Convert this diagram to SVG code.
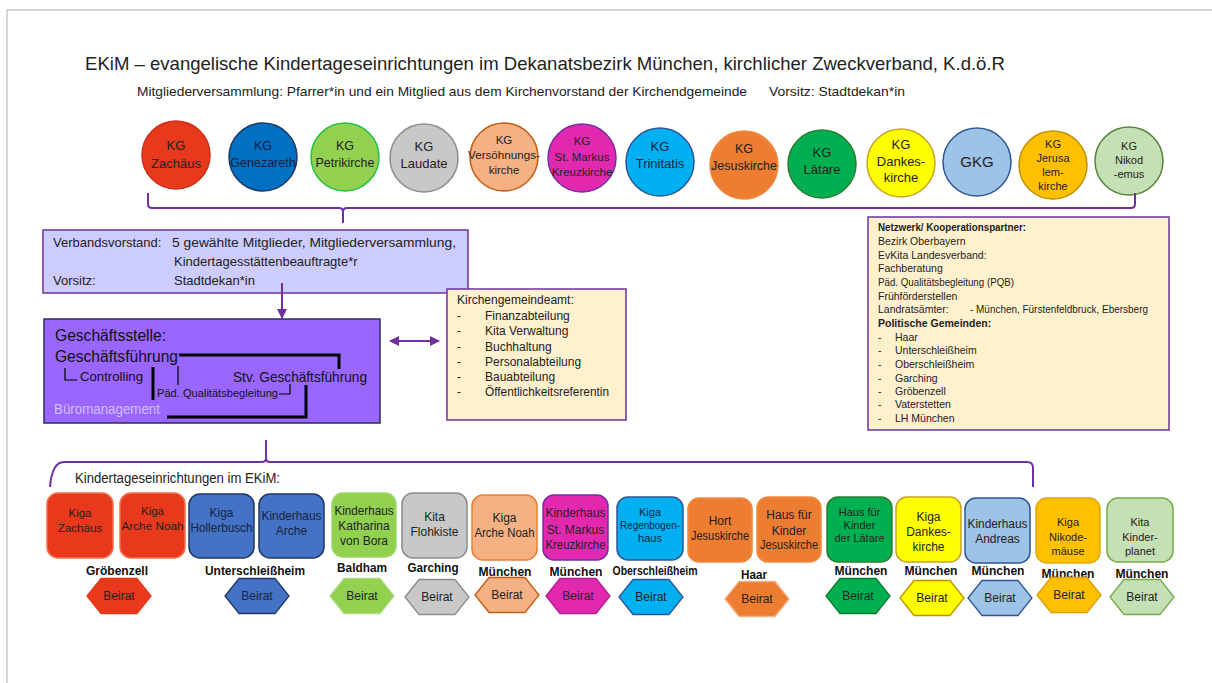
<svg xmlns="http://www.w3.org/2000/svg" width="1212" height="683" viewBox="0 0 1212 683">
<defs>
<style>
.t{font-family:"Liberation Sans",Arial,sans-serif;fill:#222}
.c{text-anchor:middle}
.conn{stroke:#7030A0;stroke-width:2;fill:none}
.blk{stroke:#000;stroke-width:3;fill:none}
.thin{stroke:#000;stroke-width:1.2;fill:none}
.kg{stroke-width:1.5}
.box{stroke-width:1.5}
.hex{stroke-width:1.3}
.loc{font-family:"Liberation Sans",Arial,sans-serif;fill:#111;font-weight:bold;font-size:13px;text-anchor:middle}
</style>
<marker id="ah" viewBox="0 0 10 10" refX="9" refY="5" markerWidth="5" markerHeight="5" orient="auto-start-reverse">
<path d="M0,0 L10,5 L0,10 z" fill="#7030A0"/>
</marker>
<polygon id="hx" points="-32,0 -18,-17.5 18,-17.5 32,0 18,17.5 -18,17.5"/>
</defs>
<rect x="0" y="0" width="1212" height="683" fill="#fff"/>
<path d="M7,683 V10 H1212" stroke="#c8c8c8" stroke-width="1.5" fill="none"/>

<g id="title">
<text class="t" x="85" y="70" font-size="19" textLength="920" lengthAdjust="spacingAndGlyphs">EKiM – evangelische Kindertageseinrichtungen im Dekanatsbezirk München, kirchlicher Zweckverband, K.d.ö.R</text>
<text class="t" x="137" y="96" font-size="13" textLength="610" lengthAdjust="spacingAndGlyphs">Mitgliederversammlung: Pfarrer*in und ein Mitglied aus dem Kirchenvorstand der Kirchendgemeinde</text>
<text class="t" x="769" y="96" font-size="13" textLength="136" lengthAdjust="spacingAndGlyphs">Vorsitz: Stadtdekan*in</text>
</g>

<g id="kg-zachaeus"><circle class="kg" cx="176" cy="155" r="34" fill="#E8391D" stroke="#C8301A"/>
<text class="t c" font-size="13"><tspan x="176" y="150">KG</tspan><tspan x="176" y="168">Zachäus</tspan></text></g>
<g id="kg-genezareth"><circle class="kg" cx="263" cy="157" r="34" fill="#0070C0" stroke="#1F3864"/>
<text class="t c" font-size="12.5" style="fill:#0f2040"><tspan x="263" y="150">KG</tspan><tspan x="263" y="167">Genezareth</tspan></text></g>
<g id="kg-petrikirche"><circle class="kg" cx="345" cy="157" r="34" fill="#92D050" stroke="#22C040"/>
<text class="t c" font-size="12.5"><tspan x="345" y="150">KG</tspan><tspan x="345" y="167">Petrikirche</tspan></text></g>
<g id="kg-laudate"><circle class="kg" cx="424" cy="158" r="34" fill="#C8C8C8" stroke="#8C8C8C"/>
<text class="t c" font-size="13"><tspan x="424" y="151">KG</tspan><tspan x="424" y="168">Laudate</tspan></text></g>
<g id="kg-versoehnung"><circle class="kg" cx="504" cy="157" r="34" fill="#F4B183" stroke="#C55A11"/>
<text class="t c" font-size="11.5"><tspan x="504" y="144">KG</tspan><tspan x="504" y="159" textLength="72" lengthAdjust="spacingAndGlyphs">Versöhnungs-</tspan><tspan x="504" y="174">kirche</tspan></text></g>
<g id="kg-stmarkus"><circle class="kg" cx="582" cy="158" r="34" fill="#E328B0" stroke="#7030A0"/>
<text class="t c" font-size="11.5"><tspan x="582" y="145">KG</tspan><tspan x="582" y="161">St. Markus</tspan><tspan x="582" y="176">Kreuzkirche</tspan></text></g>
<g id="kg-trinitatis"><circle class="kg" cx="660" cy="162" r="34" fill="#00B0F0" stroke="#2F5597"/>
<text class="t c" font-size="13" style="fill:#10243f"><tspan x="660" y="151">KG</tspan><tspan x="660" y="168">Trinitatis</tspan></text></g>
<g id="kg-jesuskirche"><circle class="kg" cx="744" cy="165" r="34" fill="#ED7D31" stroke="#F08A40"/>
<text class="t c" font-size="12.5"><tspan x="744" y="153">KG</tspan><tspan x="744" y="170">Jesuskirche</tspan></text></g>
<g id="kg-laetare"><circle class="kg" cx="822" cy="164" r="34" fill="#00B050" stroke="#2E7D32"/>
<text class="t c" font-size="13"><tspan x="822" y="157">KG</tspan><tspan x="822" y="174">Lätare</tspan></text></g>
<g id="kg-dankeskirche"><circle class="kg" cx="901" cy="163" r="34" fill="#FFFF00" stroke="#C9A227"/>
<text class="t c" font-size="13"><tspan x="901" y="149">KG</tspan><tspan x="901" y="166">Dankes-</tspan><tspan x="901" y="182">kirche</tspan></text></g>
<g id="gkg"><circle class="kg" cx="977" cy="162" r="34" fill="#9DC3E6" stroke="#2F5597"/>
<text class="t c" font-size="15" x="977" y="167">GKG</text></g>
<g id="kg-jerusalem"><circle class="kg" cx="1053" cy="165" r="34" fill="#FFC000" stroke="#BF9000"/>
<text class="t c" font-size="11"><tspan x="1053" y="148">KG</tspan><tspan x="1053" y="162">Jerusa</tspan><tspan x="1053" y="176">lem-</tspan><tspan x="1053" y="190">kirche</tspan></text></g>
<g id="kg-nikodemus"><circle class="kg" cx="1129" cy="161" r="34" fill="#C5E0B4" stroke="#548235"/>
<text class="t c" font-size="11"><tspan x="1129" y="150">KG</tspan><tspan x="1129" y="164">Nikod</tspan><tspan x="1129" y="178">-emus</tspan></text></g>

<g id="verbandsvorstand">
<rect x="43" y="230" width="425" height="63" fill="#CCCCFF" stroke="#7030A0" stroke-width="1.5"/>
<text class="t" font-size="13" x="53" y="247">Verbandsvorstand:</text>
<text class="t" font-size="13" x="172" y="247" textLength="284" lengthAdjust="spacingAndGlyphs">5 gewählte Mitglieder, Mitgliederversammlung,</text>
<text class="t" font-size="13" x="174" y="266">Kindertagesstättenbeauftragte*r</text>
<text class="t" font-size="13" x="53" y="285">Vorsitz:</text>
<text class="t" font-size="13" x="174" y="285">Stadtdekan*in</text>
</g>

<g id="geschaeftsstelle">
<rect x="44" y="319" width="336" height="104" fill="#9966FF" stroke="#2B2B55" stroke-width="1.5"/>
<text class="t" style="fill:#111" font-size="16" x="55" y="341" textLength="111" lengthAdjust="spacingAndGlyphs">Geschäftsstelle:</text>
<text class="t" style="fill:#111" font-size="16" x="55" y="362" textLength="123" lengthAdjust="spacingAndGlyphs">Geschäftsführung</text>
<path class="blk" d="M179,355 H339 V369"/>
<path class="thin" d="M65,368 V380 H77"/>
<text class="t" style="fill:#111" font-size="12.5" x="80" y="381" textLength="63" lengthAdjust="spacingAndGlyphs">Controlling</text>
<path class="blk" d="M153,367 V400"/>
<path class="thin" d="M178,366 V385"/>
<text class="t" style="fill:#111" font-size="15" x="233" y="382" textLength="134" lengthAdjust="spacingAndGlyphs">Stv. Geschäftsführung</text>
<text class="t" style="fill:#111" font-size="11" x="157" y="397" textLength="121" lengthAdjust="spacingAndGlyphs">Päd. Qualitätsbegleitung</text>
<path class="thin" d="M279,394 H290 V384"/>
<path class="blk" d="M306,385 V417 H167"/>
<text class="t" style="fill:#D2BFFF" font-size="14" x="54" y="414" textLength="106" lengthAdjust="spacingAndGlyphs">Büromanagement</text>
</g>

<g id="kirchengemeindeamt">
<rect x="447" y="289" width="179" height="131" fill="#FFF0CE" stroke="#7030A0" stroke-width="1.5"/>
<g class="t" font-size="12">
<text x="457" y="304">Kirchengemeindeamt:</text>
<text x="457" y="320">-</text><text x="485" y="320">Finanzabteilung</text>
<text x="457" y="335">-</text><text x="485" y="335">Kita Verwaltung</text>
<text x="457" y="351">-</text><text x="485" y="351">Buchhaltung</text>
<text x="457" y="366">-</text><text x="485" y="366">Personalabteilung</text>
<text x="457" y="381">-</text><text x="485" y="381">Bauabteilung</text>
<text x="457" y="396">-</text><text x="485" y="396" textLength="124" lengthAdjust="spacingAndGlyphs">Öffentlichkeitsreferentin</text>
</g>
</g>

<g id="netzwerk">
<rect x="868" y="217" width="301" height="213" fill="#FFF0CE" stroke="#7030A0" stroke-width="1.5"/>
<g class="t" font-size="10.5">
<text x="878" y="231" font-weight="bold" textLength="148" lengthAdjust="spacingAndGlyphs">Netzwerk/ Kooperationspartner:</text>
<text x="878" y="245">Bezirk Oberbayern</text>
<text x="878" y="259">EvKita Landesverband:</text>
<text x="878" y="272">Fachberatung</text>
<text x="878" y="286" textLength="136" lengthAdjust="spacingAndGlyphs">Päd. Qualitätsbegleitung (PQB)</text>
<text x="878" y="300">Frühförderstellen</text>
<text x="878" y="313">Landratsämter:</text>
<text x="970" y="313" textLength="178" lengthAdjust="spacingAndGlyphs">- München, Fürstenfeldbruck, Ebersberg</text>
<text x="878" y="327" font-weight="bold">Politische Gemeinden:</text>
<text x="878" y="341">-</text><text x="895" y="341">Haar</text>
<text x="878" y="354">-</text><text x="895" y="354">Unterschleißheim</text>
<text x="878" y="368">-</text><text x="895" y="368">Oberschleißheim</text>
<text x="878" y="382">-</text><text x="895" y="382">Garching</text>
<text x="878" y="395">-</text><text x="895" y="395">Gröbenzell</text>
<text x="878" y="408">-</text><text x="895" y="408">Vaterstetten</text>
<text x="878" y="422">-</text><text x="895" y="422">LH München</text>
</g>
</g>

<g id="connectors">
<path class="conn" d="M148,193 V204 Q148,208 152,208 H339 Q343,208 343,212 V223 M343,212 Q343,208 347,208 H1131 Q1135,208 1135,204 V193"/>
<path class="conn" d="M282,283 V318" marker-end="url(#ah)"/>
<path class="conn" d="M390,341 H439" marker-start="url(#ah)" marker-end="url(#ah)"/>
<path class="conn" d="M50,487 Q52,462 64,462 H262 Q266,462 266,458 V440 M266,458 Q266,462 270,462 H1027 Q1033,462 1033,468 V487"/>
</g>

<text class="t" font-size="14" x="75" y="483" textLength="205" lengthAdjust="spacingAndGlyphs">Kindertageseinrichtungen im EKiM:</text>

<g id="kita-zachaeus"><rect class="box" x="47" y="493" width="66" height="65" rx="11" fill="#E8391D" stroke="#F0704F"/>
<text class="t c" font-size="11.5"><tspan x="80" y="517">Kiga</tspan><tspan x="80" y="532">Zachäus</tspan></text></g>
<g id="kita-archenoah1"><rect class="box" x="120" y="493" width="65" height="65" rx="11" fill="#E8391D" stroke="#F0704F"/>
<text class="t c" font-size="11.5"><tspan x="152.5" y="515">Kiga</tspan><tspan x="152.5" y="530" textLength="62" lengthAdjust="spacingAndGlyphs">Arche Noah</tspan></text></g>
<g id="kita-hollerbusch"><rect class="box" x="189" y="494" width="65" height="64" rx="11" fill="#4472C4" stroke="#1F3864"/>
<text class="t c" font-size="12" style="fill:#17233f"><tspan x="221.5" y="517">Kiga</tspan><tspan x="221.5" y="532" textLength="62" lengthAdjust="spacingAndGlyphs">Hollerbusch</tspan></text></g>
<g id="kita-arche"><rect class="box" x="259" y="494" width="65" height="64" rx="11" fill="#4472C4" stroke="#1F3864"/>
<text class="t c" font-size="12" style="fill:#17233f"><tspan x="291.5" y="520" textLength="60" lengthAdjust="spacingAndGlyphs">Kinderhaus</tspan><tspan x="291.5" y="535">Arche</tspan></text></g>
<g id="kita-katharina"><rect class="box" x="332" y="493" width="64" height="64" rx="11" fill="#92D050" stroke="#9BD96A"/>
<text class="t c" font-size="12"><tspan x="364" y="515" textLength="59" lengthAdjust="spacingAndGlyphs">Kinderhaus</tspan><tspan x="364" y="530">Katharina</tspan><tspan x="364" y="545">von Bora</tspan></text></g>
<g id="kita-flohkiste"><rect class="box" x="402" y="493" width="65" height="65" rx="11" fill="#C8C8C8" stroke="#8C8C8C"/>
<text class="t c" font-size="12"><tspan x="434.5" y="521">Kita</tspan><tspan x="434.5" y="536">Flohkiste</tspan></text></g>
<g id="kita-archenoah2"><rect class="box" x="472" y="495" width="65" height="65" rx="11" fill="#F4B183" stroke="#ED7D31"/>
<text class="t c" font-size="12"><tspan x="504.5" y="522">Kiga</tspan><tspan x="504.5" y="537" textLength="60" lengthAdjust="spacingAndGlyphs">Arche Noah</tspan></text></g>
<g id="kita-stmarkus"><rect class="box" x="543" y="495" width="65" height="65" rx="11" fill="#E328B0" stroke="#7030A0"/>
<text class="t c" font-size="12"><tspan x="575.5" y="517" textLength="60" lengthAdjust="spacingAndGlyphs">Kinderhaus</tspan><tspan x="575.5" y="534">St. Markus</tspan><tspan x="575.5" y="549" textLength="60" lengthAdjust="spacingAndGlyphs">Kreuzkirche</tspan></text></g>
<g id="kita-regenbogenhaus"><rect class="box" x="617" y="497" width="66" height="63" rx="11" fill="#00B0F0" stroke="#2F5597"/>
<text class="t c" font-size="11" style="fill:#10243f"><tspan x="650" y="516">Kiga</tspan><tspan x="650" y="529" textLength="60" lengthAdjust="spacingAndGlyphs">Regenbogen-</tspan><tspan x="650" y="542">haus</tspan></text></g>
<g id="kita-hort-jesuskirche"><rect class="box" x="688" y="498" width="64" height="64" rx="11" fill="#ED7D31" stroke="#F08A40"/>
<text class="t c" font-size="12"><tspan x="720" y="525">Hort</tspan><tspan x="720" y="540" textLength="58" lengthAdjust="spacingAndGlyphs">Jesuskirche</tspan></text></g>
<g id="kita-hfk-jesuskirche"><rect class="box" x="757" y="497" width="64" height="65" rx="11" fill="#ED7D31" stroke="#F08A40"/>
<text class="t c" font-size="12"><tspan x="789" y="519">Haus für</tspan><tspan x="789" y="535">Kinder</tspan><tspan x="789" y="549" textLength="58" lengthAdjust="spacingAndGlyphs">Jesuskirche</tspan></text></g>
<g id="kita-laetare"><rect class="box" x="827" y="497" width="65" height="65" rx="11" fill="#00B050" stroke="#2E7D32"/>
<text class="t c" font-size="11"><tspan x="859.5" y="516">Haus für</tspan><tspan x="859.5" y="529">Kinder</tspan><tspan x="859.5" y="542">der Lätare</tspan></text></g>
<g id="kita-dankeskirche"><rect class="box" x="896" y="497" width="65" height="65" rx="11" fill="#FFFF00" stroke="#C9A227"/>
<text class="t c" font-size="12"><tspan x="928.5" y="521">Kiga</tspan><tspan x="928.5" y="536">Dankes-</tspan><tspan x="928.5" y="551">kirche</tspan></text></g>
<g id="kita-andreas"><rect class="box" x="965" y="498" width="65" height="65" rx="11" fill="#9DC3E6" stroke="#2F5597"/>
<text class="t c" font-size="12"><tspan x="997.5" y="528" textLength="60" lengthAdjust="spacingAndGlyphs">Kinderhaus</tspan><tspan x="997.5" y="543">Andreas</tspan></text></g>
<g id="kita-nikodemaeuse"><rect class="box" x="1036" y="498" width="64" height="65" rx="11" fill="#FFC000" stroke="#E0A800"/>
<text class="t c" font-size="11"><tspan x="1068" y="526">Kiga</tspan><tspan x="1068" y="541">Nikode-</tspan><tspan x="1068" y="555">mäuse</tspan></text></g>
<g id="kita-kinderplanet"><rect class="box" x="1107" y="498" width="66" height="64" rx="11" fill="#C5E0B4" stroke="#70AD47"/>
<text class="t c" font-size="11"><tspan x="1140" y="526">Kita</tspan><tspan x="1140" y="541">Kinder-</tspan><tspan x="1140" y="555">planet</tspan></text></g>

<g id="orte">
<text class="loc" x="117" y="575" textLength="62" lengthAdjust="spacingAndGlyphs">Gröbenzell</text>
<text class="loc" x="255" y="575" textLength="100" lengthAdjust="spacingAndGlyphs">Unterschleißheim</text>
<text class="loc" x="362" y="572" textLength="50" lengthAdjust="spacingAndGlyphs">Baldham</text>
<text class="loc" x="433" y="572" textLength="51" lengthAdjust="spacingAndGlyphs">Garching</text>
<text class="loc" x="505" y="576" textLength="53" lengthAdjust="spacingAndGlyphs">München</text>
<text class="loc" x="576" y="576" textLength="53" lengthAdjust="spacingAndGlyphs">München</text>
<text class="loc" x="655" y="575" style="font-size:12px" textLength="85" lengthAdjust="spacingAndGlyphs">Oberschleißheim</text>
<text class="loc" x="754" y="579" textLength="26" lengthAdjust="spacingAndGlyphs">Haar</text>
<text class="loc" x="861" y="575" textLength="53" lengthAdjust="spacingAndGlyphs">München</text>
<text class="loc" x="931" y="575" textLength="53" lengthAdjust="spacingAndGlyphs">München</text>
<text class="loc" x="998" y="575" textLength="53" lengthAdjust="spacingAndGlyphs">München</text>
<text class="loc" x="1068" y="578" textLength="53" lengthAdjust="spacingAndGlyphs">München</text>
<text class="loc" x="1142" y="578" textLength="53" lengthAdjust="spacingAndGlyphs">München</text>
</g>

<g id="beirat-groebenzell"><use href="#hx" x="119" y="596" class="hex" fill="#E8391D" stroke="#E8391D"/><text class="t c" font-size="12" x="119" y="600">Beirat</text></g>
<g id="beirat-unterschleissheim"><use href="#hx" x="257" y="596" class="hex" fill="#4472C4" stroke="#1F3864"/><text class="t c" font-size="12" x="257" y="600" style="fill:#17233f">Beirat</text></g>
<g id="beirat-baldham"><use href="#hx" x="362" y="596" class="hex" fill="#92D050" stroke="#A9DC7D"/><text class="t c" font-size="12" x="362" y="600">Beirat</text></g>
<g id="beirat-garching"><use href="#hx" x="437" y="597" class="hex" fill="#C8C8C8" stroke="#8C8C8C"/><text class="t c" font-size="12" x="437" y="601">Beirat</text></g>
<g id="beirat-muenchen1"><use href="#hx" x="507" y="595" class="hex" fill="#F4B183" stroke="#C55A11"/><text class="t c" font-size="12" x="507" y="599">Beirat</text></g>
<g id="beirat-muenchen2"><use href="#hx" x="578" y="596" class="hex" fill="#E328B0" stroke="#B0208F"/><text class="t c" font-size="12" x="578" y="600">Beirat</text></g>
<g id="beirat-oberschleissheim"><use href="#hx" x="651" y="597" class="hex" fill="#00B0F0" stroke="#2F5597"/><text class="t c" font-size="12" x="651" y="601">Beirat</text></g>
<g id="beirat-haar"><use href="#hx" x="757" y="599" class="hex" fill="#ED7D31" stroke="#F4B183"/><text class="t c" font-size="12" x="757" y="603">Beirat</text></g>
<g id="beirat-laetare"><use href="#hx" x="858" y="596" class="hex" fill="#00B050" stroke="#00802F"/><text class="t c" font-size="12" x="858" y="600">Beirat</text></g>
<g id="beirat-dankeskirche"><use href="#hx" x="932" y="598" class="hex" fill="#FFFF00" stroke="#BF9000"/><text class="t c" font-size="12" x="932" y="602">Beirat</text></g>
<g id="beirat-andreas"><use href="#hx" x="1000" y="598" class="hex" fill="#9DC3E6" stroke="#2F5597"/><text class="t c" font-size="12" x="1000" y="602">Beirat</text></g>
<g id="beirat-nikodemaeuse"><use href="#hx" x="1069" y="595" class="hex" fill="#FFC000" stroke="#D9A000"/><text class="t c" font-size="12" x="1069" y="599">Beirat</text></g>
<g id="beirat-kinderplanet"><use href="#hx" x="1142" y="597" class="hex" fill="#C5E0B4" stroke="#70AD47"/><text class="t c" font-size="12" x="1142" y="601">Beirat</text></g>
</svg>
